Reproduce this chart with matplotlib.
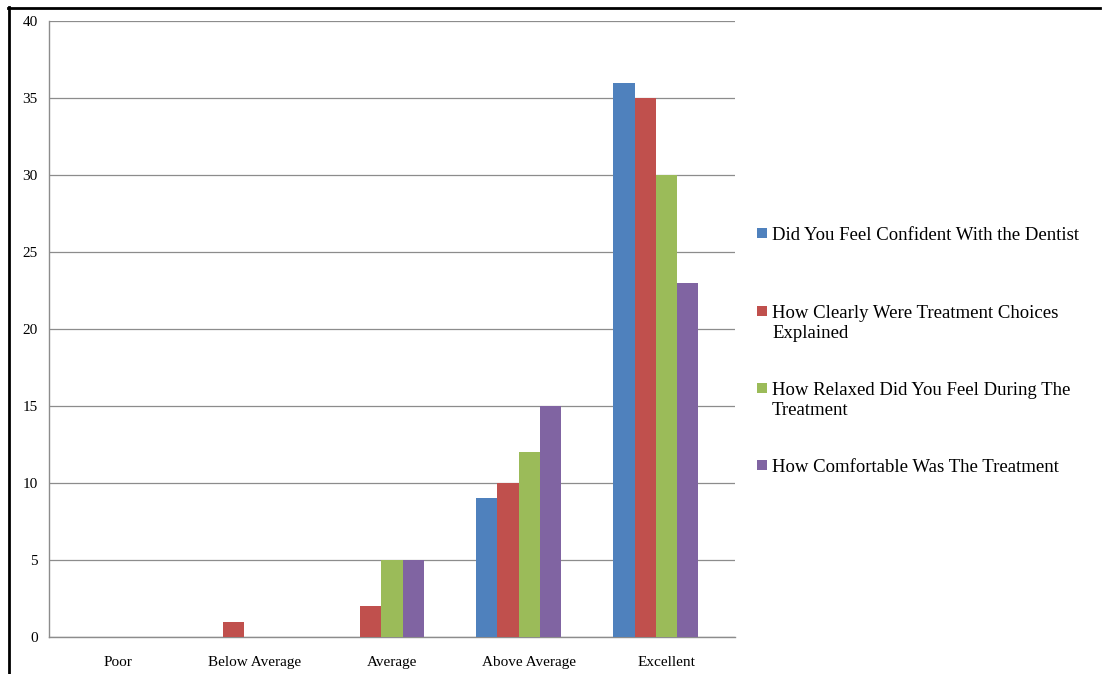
import matplotlib
matplotlib.use("Agg")
import matplotlib.pyplot as plt
from matplotlib.lines import Line2D
from matplotlib.patches import Rectangle
import numpy as np

categories = ["Poor", "Below Average", "Average", "Above Average", "Excellent"]
series_names = [
    "Did You Feel Confident With the Dentist",
    "How Clearly Were Treatment Choices\nExplained",
    "How Relaxed Did You Feel During The\nTreatment",
    "How Comfortable Was The Treatment",
]
confident = [0, 0, 0, 9, 36]
clearly = [0, 1, 2, 10, 35]
relaxed = [0, 0, 5, 12, 30]
comfortable = [0, 0, 5, 15, 23]
y_ticks = [0, 5, 10, 15, 20, 25, 30, 35, 40]

colors = ["#4F81BD", "#C0504D", "#9BBB59", "#8064A2"]
values = [confident, clearly, relaxed, comfortable]

plt.rcParams["font.family"] = ["Liberation Serif", "DejaVu Serif"]

W, H = 1103, 674
fig = plt.figure(figsize=(W / 100, H / 100), dpi=100)
fig.patch.set_facecolor("white")

ax = fig.add_axes([49 / W, 1 - 637 / H, (735 - 49) / W, (637 - 21) / H])

x = np.arange(len(categories))
w = 0.155
for i, (vals, c) in enumerate(zip(values, colors)):
    ax.bar(x - 2.5 * w + w * (i + 0.5), vals, width=w, color=c, zorder=3, linewidth=0)

ax.set_xlim(-0.5, len(categories) - 0.5)
ax.set_ylim(0, 40)
ax.set_yticks(y_ticks)
ax.set_xticks(x)
ax.set_xticklabels(categories)
ax.tick_params(axis="both", length=0, labelsize=11, colors="black")
ax.tick_params(axis="y", pad=8)
ax.tick_params(axis="x", pad=14)
ax.yaxis.grid(True, color="#8C8C8C", linewidth=0.9, zorder=0)
for s in ["top", "right"]:
    ax.spines[s].set_visible(False)
for s in ["left", "bottom"]:
    ax.spines[s].set_color("#8C8C8C")
    ax.spines[s].set_linewidth(1.0)

# Legend drawn at the right side, entries spaced evenly
entry_y = [233, 311, 388, 465]
for name, c, yy in zip(series_names, colors, entry_y):
    fig.patches.append(Rectangle((757 / W, 1 - (yy + 5) / H), 10 / W, 10 / H,
                                 transform=fig.transFigure, facecolor=c,
                                 edgecolor="none"))
    fig.text(772 / W, 1 - (yy - 6) / H, name, fontsize=13.5, va="top", ha="left",
             linespacing=1.25)

# Frame lines along the top and left edges
fig.add_artist(Line2D([8 / W, 1100 / W], [1 - 7.5 / H, 1 - 7.5 / H],
                      transform=fig.transFigure, color="black", linewidth=2))
fig.add_artist(Line2D([9 / W, 9 / W], [1 - 6.5 / H, 0],
                      transform=fig.transFigure, color="black", linewidth=2))

fig.savefig("out.png", dpi=100, facecolor="white")
